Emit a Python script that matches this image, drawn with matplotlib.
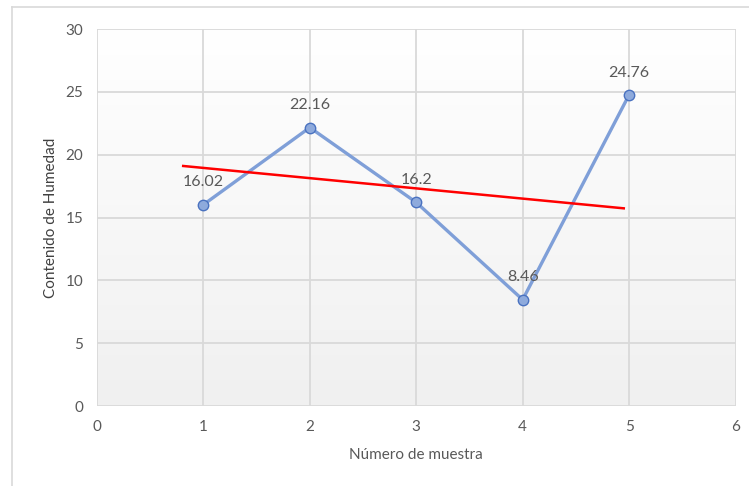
import matplotlib.pyplot as plt
import numpy as np
from matplotlib.lines import Line2D

# data
muestra = [1, 2, 3, 4, 5]
humedad = [16.02, 22.16, 16.2, 8.46, 24.76]
etiquetas = ['16.02', '22.16', '16.2', '8.46', '24.76']

# red line
tend_x = [0.81, 4.95]
tend_y = [19.1, 15.73]

plt.rcParams['font.family'] = ['Lato', 'DejaVu Sans']

fig = plt.figure(figsize=(7.49, 4.86), dpi=100)
W, H = 749, 486
ax = fig.add_axes([97 / W, 1 - 406 / H, (735.5 - 97) / W, (406 - 29) / H])

# outer chart border
fig.add_artist(Line2D([12 / W, 12 / W], [0, 1 - 7 / H], color='#d9d9d9', lw=1.2))
fig.add_artist(Line2D([12 / W, 1], [1 - 7 / H, 1 - 7 / H], color='#d9d9d9', lw=1.2))

# gradient background
grad = np.linspace(0, 1, 256).reshape(-1, 1)
ax.imshow(grad, extent=[0, 1, 0, 1], transform=ax.transAxes, aspect='auto',
          cmap=plt.matplotlib.colors.LinearSegmentedColormap.from_list(
              'g', ['#ffffff', '#f0f0f0']), origin='upper', zorder=0)

ax.set_xlim(0, 6)
ax.set_ylim(0, 30)
ax.set_xticks(range(0, 7))
ax.set_yticks(range(0, 31, 5))
ax.grid(True, color='#d9d9d9', lw=1.3, zorder=1)
for s in ax.spines.values():
    s.set_visible(False)
ax.tick_params(length=0, labelsize=11, colors='#595959', pad=10)

ax.plot(muestra, humedad, color='#7f9fd8', lw=2.4, marker='o', ms=7.5,
        mfc='#8eaadc', mec='#4a72c0', mew=1.0, zorder=3)
ax.plot(tend_x, tend_y, color='#ff0000', lw=1.8, zorder=4)

for x, y, t in zip(muestra, humedad, etiquetas):
    ax.annotate(t, (x, y), xytext=(0, 11), textcoords='offset points',
                ha='center', va='bottom', fontsize=11.5, color='#595959', zorder=5)

ax.set_xlabel('Número de muestra', fontsize=11, color='#595959', labelpad=10)
ax.set_ylabel('Contenido de Humedad', fontsize=11, color='#404040', labelpad=5)

fig.savefig('out.png', dpi=100)
